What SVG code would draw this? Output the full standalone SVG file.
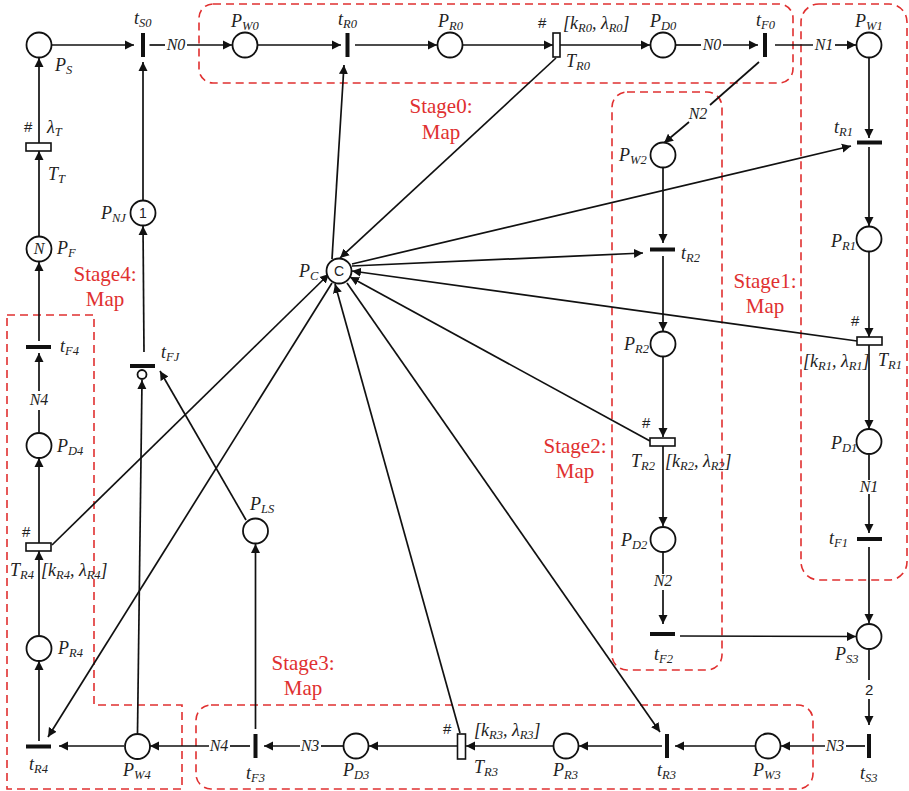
<svg xmlns="http://www.w3.org/2000/svg" width="909" height="791" viewBox="0 0 909 791">
<style>
.bg{fill:#fff}
.stage{fill:none;stroke:#e03030;stroke-width:1.6;stroke-dasharray:8 5}
.st{font-family:"Liberation Serif",serif;font-size:21px;fill:#e03030;text-anchor:middle}
.c{fill:none;stroke:#111;stroke-width:1.7}
.a{marker-end:url(#ah)}
.p{fill:#fff;stroke:#111;stroke-width:1.8}
.tr{fill:#fff;stroke:#111;stroke-width:1.6}
.b{fill:none;stroke:#111;stroke-width:4}
.l{font-family:"Liberation Serif",serif;font-style:italic;font-size:18px;fill:#222}
.l tspan.s{font-size:12.500px}
.m{font-family:"Liberation Sans",sans-serif;font-size:15px;fill:#222}
.cn{font-family:"Liberation Sans",sans-serif;font-size:14px;fill:#222;text-anchor:middle}
.n{font-family:"Liberation Serif",serif;font-style:italic;font-size:16px;fill:#222;text-anchor:middle}
</style>
<defs>
<marker id="ah" markerUnits="userSpaceOnUse" markerWidth="10" markerHeight="10" refX="9" refY="5" orient="auto">
<path d="M0,0.5 L9,5 L0,9.5 Z" fill="#111"/>
</marker>
</defs>
<rect class="bg" width="909" height="791"/>
<g id="stages">
<rect id="stage0" class="stage" x="199" y="4" width="594" height="79" rx="14"/>
<rect id="stage1" class="stage" x="801" y="4" width="106" height="576" rx="18"/>
<rect id="stage2" class="stage" x="612" y="92" width="110" height="578" rx="15"/>
<rect id="stage3" class="stage" x="196" y="705" width="617" height="84" rx="15"/>
<path id="stage4" class="stage" d="M7,315 H94 V705 H182 V789 H7 Z"/>
<text class="st" x="441" y="113">Stage0:</text><text class="st" x="441" y="139">Map</text>
<text class="st" x="765" y="288">Stage1:</text><text class="st" x="765" y="313">Map</text>
<text class="st" x="575" y="453">Stage2:</text><text class="st" x="575" y="478">Map</text>
<text class="st" x="303" y="670">Stage3:</text><text class="st" x="303" y="695">Map</text>
<text class="st" x="105" y="281">Stage4:</text><text class="st" x="105" y="306">Map</text>
</g>
<g id="connectors">
<path class="c a" d="M52,45H134"/>
<path class="c" d="M149.500,45H165"/><path class="c a" d="M187,45H232"/>
<path class="c a" d="M258,45H341"/>
<path class="c a" d="M355,45H437"/>
<path class="c a" d="M463,45H553"/>
<path class="c a" d="M560,45H650"/>
<path class="c" d="M676,45H701"/><path class="c a" d="M723,45H758"/>
<path class="c" d="M775,45H813"/><path class="c a" d="M835,45H856"/>
<path class="c" d="M759,62L710,105"/><path class="c a" d="M689,122L664,143"/>
<path class="c a" d="M869,58V138"/>
<path class="c a" d="M869,147V226"/>
<path class="c a" d="M869,252V337"/>
<path class="c a" d="M869,345V429"/>
<path class="c" d="M869,455V480"/><path class="c a" d="M869,494V533"/>
<path class="c a" d="M869,547V623"/>
<path class="c" d="M869,650V680"/><path class="c a" d="M869,699V725"/>
<path class="c" d="M865,746H846"/><path class="c a" d="M825,746H781"/>
<path class="c a" d="M755,746H675"/>
<path class="c a" d="M662,746H579"/>
<path class="c a" d="M553,746H466"/>
<path class="c a" d="M457,746H369"/>
<path class="c" d="M343,746H321"/><path class="c a" d="M300,746H264"/>
<path class="c" d="M250,746H230"/><path class="c a" d="M209,746H150"/>
<path class="c a" d="M124,746H59"/>
<path class="c a" d="M39,741V661"/>
<path class="c a" d="M39,635V551"/>
<path class="c a" d="M39,543V458"/>
<path class="c" d="M39,432V410"/><path class="c a" d="M39,391V353"/>
<path class="c a" d="M39,341V262"/>
<path class="c a" d="M39,236V151"/>
<path class="c a" d="M39,143V58"/>
<path class="c a" d="M143,200V62"/>
<path class="c a" d="M144,352L143,226"/>
<path class="c a" d="M137.500,733L142,380"/>
<path class="c a" d="M246,520L160,371"/>
<path class="c a" d="M255.500,729V544"/>
<path class="c a" d="M332,259L344,65"/>
<path class="c a" d="M556,58L340,258"/>
<path class="c a" d="M352,264L851,146"/>
<path class="c a" d="M352,266L643,253"/>
<path class="c a" d="M857,341L352,271"/>
<path class="c a" d="M650,441L350,277"/>
<path class="c a" d="M52,545L329,274"/>
<path class="c a" d="M332,283L48,737"/>
<path class="c a" d="M347,283L660,732"/>
<path class="c a" d="M460,733L335,284"/>
<path class="c a" d="M680,636L856,636.500"/>
<path class="c a" d="M663,168V243"/>
<path class="c a" d="M663,256V331"/>
<path class="c a" d="M663,357V437"/>
<path class="c a" d="M663,446V526"/>
<path class="c" d="M663,552V574"/><path class="c a" d="M663,590V624"/>
</g>
<g id="connector-labels">
<text class="n" x="176" y="50">N0</text>
<text class="n" x="712" y="50">N0</text>
<text class="n" x="824" y="50">N1</text>
<text class="n" x="698" y="119">N2</text>
<text class="n" x="869" y="492">N1</text>
<text class="n" x="663" y="586">N2</text>
<text class="m" x="865" y="695">2</text>
<text class="n" x="835" y="751">N3</text>
<text class="n" x="219" y="751">N4</text>
<text class="n" x="39" y="405">N4</text>
<text class="n" x="310" y="751">N3</text>
</g>
<g id="P_S"><circle class="p" cx="39" cy="45" r="12.500"/><text class="l" x="55" y="71">P<tspan class="s" dy="3">S</tspan></text></g>
<g id="t_S0"><path class="b" d="M143,33V57"/><text class="l" x="134" y="24">t<tspan class="s" dy="3">S0</tspan></text></g>
<g id="P_W0"><circle class="p" cx="245" cy="45" r="12.500"/><text class="l" x="231" y="27">P<tspan class="s" dy="3">W0</tspan></text></g>
<g id="t_R0"><path class="b" d="M347.500,33V57"/><text class="l" x="338" y="25">t<tspan class="s" dy="3">R0</tspan></text></g>
<g id="P_R0"><circle class="p" cx="450" cy="45" r="12.500"/><text class="l" x="438" y="27">P<tspan class="s" dy="3">R0</tspan></text></g>
<g id="T_R0"><rect class="tr" x="553" y="33" width="7" height="24"/><text class="m" x="538" y="28">#</text><text class="l" x="563" y="29">[k<tspan class="s" dy="3">R0</tspan><tspan dy="-3">, λ</tspan><tspan class="s" dy="3">R0</tspan><tspan dy="-3">]</tspan></text><text class="l" x="566" y="67">T<tspan class="s" dy="3">R0</tspan></text></g>
<g id="P_D0"><circle class="p" cx="663" cy="45" r="12.500"/><text class="l" x="650" y="27">P<tspan class="s" dy="3">D0</tspan></text></g>
<g id="t_F0"><path class="b" d="M765,33V57"/><text class="l" x="756" y="26">t<tspan class="s" dy="3">F0</tspan></text></g>
<g id="P_W1"><circle class="p" cx="869" cy="45" r="12.500"/><text class="l" x="855" y="27">P<tspan class="s" dy="3">W1</tspan></text></g>
<g id="t_R1"><path class="b" d="M857,142.500H882"/><text class="l" x="834" y="133">t<tspan class="s" dy="3">R1</tspan></text></g>
<g id="P_R1"><circle class="p" cx="869" cy="239" r="12.500"/><text class="l" x="831" y="247">P<tspan class="s" dy="3">R1</tspan></text></g>
<g id="T_R1"><rect class="tr" x="857" y="337" width="25" height="8"/><text class="m" x="851" y="326">#</text><text class="l" x="803" y="367">[k<tspan class="s" dy="3">R1</tspan><tspan dy="-3">, λ</tspan><tspan class="s" dy="3">R1</tspan><tspan dy="-3">]</tspan></text><text class="l" x="878" y="366">T<tspan class="s" dy="3">R1</tspan></text></g>
<g id="P_D1"><circle class="p" cx="869" cy="441.500" r="12.500"/><text class="l" x="831" y="449">P<tspan class="s" dy="3">D1</tspan></text></g>
<g id="t_F1"><path class="b" d="M857,539H882"/><text class="l" x="829" y="544">t<tspan class="s" dy="3">F1</tspan></text></g>
<g id="P_S3"><circle class="p" cx="869" cy="636.500" r="12.500"/><text class="l" x="835" y="660">P<tspan class="s" dy="3">S3</tspan></text></g>
<g id="t_S3"><path class="b" d="M869,734V758"/><text class="l" x="860" y="779">t<tspan class="s" dy="3">S3</tspan></text></g>
<g id="P_W2"><circle class="p" cx="663" cy="155" r="12.500"/><text class="l" x="619" y="161">P<tspan class="s" dy="3">W2</tspan></text></g>
<g id="t_R2"><path class="b" d="M650,249.500H675"/><text class="l" x="681" y="259">t<tspan class="s" dy="3">R2</tspan></text></g>
<g id="P_R2"><circle class="p" cx="663" cy="344" r="12.500"/><text class="l" x="624" y="350">P<tspan class="s" dy="3">R2</tspan></text></g>
<g id="T_R2"><rect class="tr" x="650" y="438" width="25" height="8"/><text class="m" x="642" y="428">#</text><text class="l" x="631" y="467">T<tspan class="s" dy="3">R2</tspan></text><text class="l" x="665" y="467">[k<tspan class="s" dy="3">R2</tspan><tspan dy="-3">, λ</tspan><tspan class="s" dy="3">R2</tspan><tspan dy="-3">]</tspan></text></g>
<g id="P_D2"><circle class="p" cx="663" cy="539.500" r="12.500"/><text class="l" x="621" y="546">P<tspan class="s" dy="3">D2</tspan></text></g>
<g id="t_F2"><path class="b" d="M650,634H675"/><text class="l" x="654" y="660">t<tspan class="s" dy="3">F2</tspan></text></g>
<g id="P_W3"><circle class="p" cx="768" cy="746" r="12.500"/><text class="l" x="753" y="776">P<tspan class="s" dy="3">W3</tspan></text></g>
<g id="t_R3"><path class="b" d="M667,734V758"/><text class="l" x="657" y="776">t<tspan class="s" dy="3">R3</tspan></text></g>
<g id="P_R3"><circle class="p" cx="566" cy="746" r="12.500"/><text class="l" x="553" y="776">P<tspan class="s" dy="3">R3</tspan></text></g>
<g id="T_R3"><rect class="tr" x="457.500" y="734" width="8" height="25"/><text class="m" x="443" y="734">#</text><text class="l" x="474" y="736">[k<tspan class="s" dy="3">R3</tspan><tspan dy="-3">, λ</tspan><tspan class="s" dy="3">R3</tspan><tspan dy="-3">]</tspan></text><text class="l" x="474" y="773">T<tspan class="s" dy="3">R3</tspan></text></g>
<g id="P_D3"><circle class="p" cx="356" cy="746" r="12.500"/><text class="l" x="343" y="776">P<tspan class="s" dy="3">D3</tspan></text></g>
<g id="t_F3"><path class="b" d="M255.500,734V758"/><text class="l" x="246" y="779">t<tspan class="s" dy="3">F3</tspan></text></g>
<g id="P_LS"><circle class="p" cx="255.500" cy="531" r="12.500"/><text class="l" x="250" y="510">P<tspan class="s" dy="3">LS</tspan></text></g>
<g id="P_W4"><circle class="p" cx="137.500" cy="746.500" r="12.500"/><text class="l" x="123" y="776">P<tspan class="s" dy="3">W4</tspan></text></g>
<g id="t_R4"><path class="b" d="M26,746.500H51"/><text class="l" x="29" y="770">t<tspan class="s" dy="3">R4</tspan></text></g>
<g id="P_R4"><circle class="p" cx="39" cy="648.500" r="12.500"/><text class="l" x="58" y="654">P<tspan class="s" dy="3">R4</tspan></text></g>
<g id="T_R4"><rect class="tr" x="26" y="543" width="25" height="8"/><text class="m" x="22" y="537">#</text><text class="l" x="10" y="576">T<tspan class="s" dy="3">R4</tspan></text><text class="l" x="41" y="576">[k<tspan class="s" dy="3">R4</tspan><tspan dy="-3">, λ</tspan><tspan class="s" dy="3">R4</tspan><tspan dy="-3">]</tspan></text></g>
<g id="P_D4"><circle class="p" cx="39" cy="445.500" r="12.500"/><text class="l" x="57" y="452">P<tspan class="s" dy="3">D4</tspan></text></g>
<g id="t_F4"><path class="b" d="M26,347H51"/><text class="l" x="60" y="352">t<tspan class="s" dy="3">F4</tspan></text></g>
<g id="P_F"><circle class="p" cx="39" cy="249" r="12.500"/><text class="n" x="39" y="254">N</text><text class="l" x="57" y="254">P<tspan class="s" dy="3">F</tspan></text></g>
<g id="T_T"><rect class="tr" x="26" y="143" width="25" height="8"/><text class="m" x="24" y="132">#</text><text class="l" x="47" y="133">λ<tspan class="s" dy="3">T</tspan></text><text class="l" x="48" y="180">T<tspan class="s" dy="3">T</tspan></text></g>
<g id="P_NJ"><circle class="p" cx="143" cy="213" r="12.500"/><text class="cn" x="143" y="218">1</text><text class="l" x="101" y="219">P<tspan class="s" dy="3">NJ</tspan></text></g>
<g id="t_FJ"><path class="b" d="M130,366H155"/><circle class="p" cx="142" cy="374.500" r="4.500"/><text class="l" x="161" y="358">t<tspan class="s" dy="3">FJ</tspan></text></g>
<g id="P_C"><circle class="p" cx="339" cy="271" r="12.500"/><text class="cn" x="339" y="276">C</text><text class="l" x="299" y="277">P<tspan class="s" dy="3">C</tspan></text></g>
</svg>
